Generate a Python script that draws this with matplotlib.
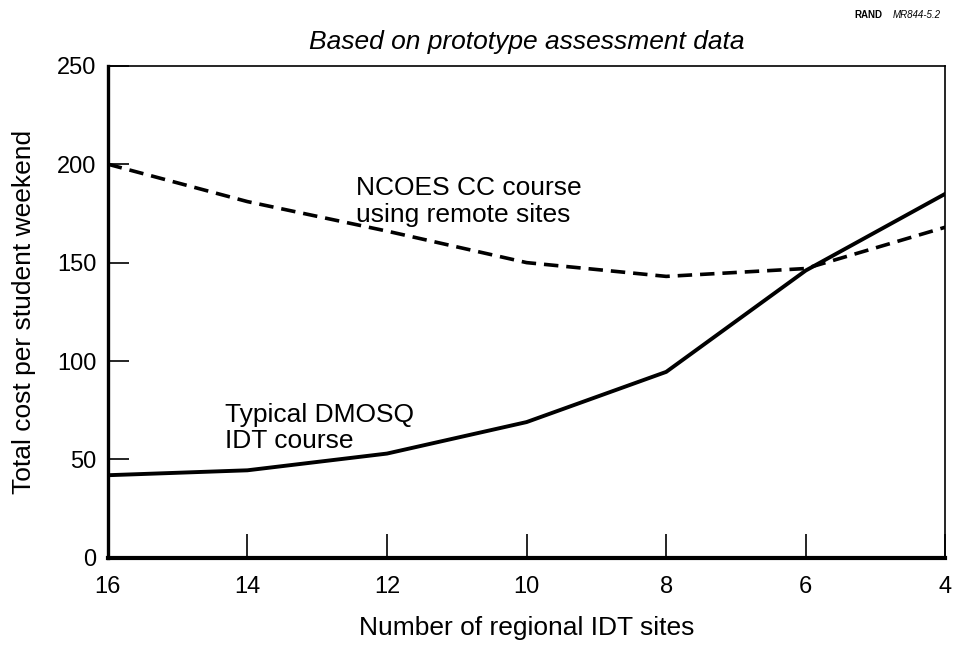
import matplotlib.pyplot as plt

plt.rcParams['font.family'] = ['Liberation Sans', 'DejaVu Sans']

# number of regional IDT sites
sites = [16, 14, 12, 10, 8, 6, 4]
# total cost per student weekend
ncoes = [200, 181, 166, 150, 143, 147, 168]
dmosq = [42, 44.5, 53, 69, 94.5, 146, 185]

fig = plt.figure(figsize=(9.54, 6.51), dpi=100)
ax = fig.add_axes([0.113, 0.143, 0.878, 0.756])

ax.plot(sites, ncoes, color="black", lw=2.6, ls=(0, (4, 2.2)))
ax.plot(sites, dmosq, color="black", lw=2.8)

ax.set_xlim(16, 4)
ax.set_ylim(0, 250)
ax.set_xticks(sites)
ax.set_yticks([0, 50, 100, 150, 200, 250])
ax.tick_params(direction="in", length=17, width=1.2, labelsize=17)
ax.tick_params(axis="x", pad=13)
ax.tick_params(axis="y", length=15, pad=8)

ax.spines["left"].set_linewidth(2.4)
ax.spines["bottom"].set_linewidth(3)
ax.spines["top"].set_linewidth(1.2)
ax.spines["right"].set_linewidth(1.2)

ax.text(12.45, 181, "NCOES CC course\nusing remote sites", fontsize=19,
        va="center", ha="left", linespacing=1.12)
ax.text(14.32, 66, "Typical DMOSQ\nIDT course", fontsize=19,
        va="center", ha="left", linespacing=1.12)

ax.set_xlabel("Number of regional IDT sites", fontsize=19, labelpad=13)
ax.set_ylabel("Total cost per student weekend", fontsize=19, labelpad=15)
ax.set_title("Based on prototype assessment data", fontsize=19,
             style="italic", pad=12)

fig.text(0.896, 0.977, "RAND", fontsize=7, weight="bold", ha="left", va="center")
fig.text(0.936, 0.977, "MR844-5.2", fontsize=7, style="italic", ha="left", va="center")

fig.savefig("out.png", dpi=100)
